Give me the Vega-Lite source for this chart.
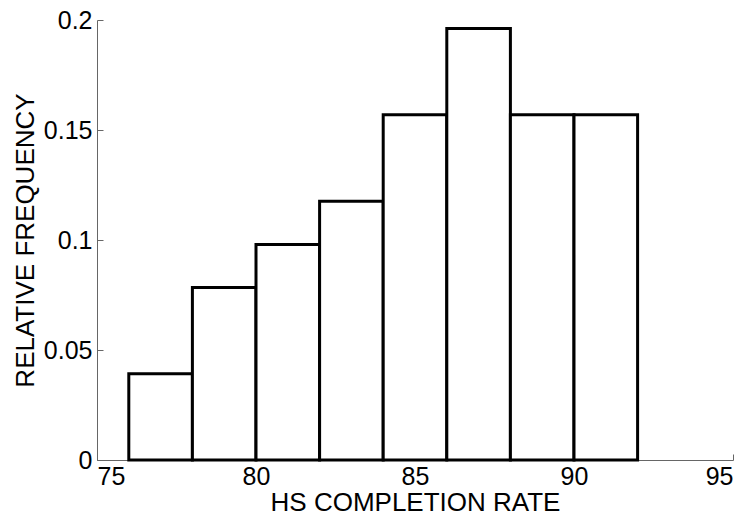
{
  "$schema": "https://vega.github.io/schema/vega-lite/v6.json",
  "width": 636,
  "height": 440,
  "autosize": {"type": "none"},
  "padding": {"left": 97, "top": 20, "right": 16, "bottom": 56},
  "background": "white",
  "config": {
    "view": {"stroke": null},
    "font": "Liberation Sans"
  },
  "data": {
    "values": [
      {"bin_start": 76, "bin_end": 78, "freq": 0.0392},
      {"bin_start": 78, "bin_end": 80, "freq": 0.0784},
      {"bin_start": 80, "bin_end": 82, "freq": 0.098},
      {"bin_start": 82, "bin_end": 84, "freq": 0.1176},
      {"bin_start": 84, "bin_end": 86, "freq": 0.1569},
      {"bin_start": 86, "bin_end": 88, "freq": 0.1961},
      {"bin_start": 88, "bin_end": 90, "freq": 0.1569},
      {"bin_start": 90, "bin_end": 92, "freq": 0.1569}
    ]
  },
  "mark": {"type": "rect", "fill": "white", "stroke": "black", "strokeWidth": 3},
  "encoding": {
    "x": {
      "field": "bin_start",
      "type": "quantitative",
      "scale": {"domain": [75, 95], "nice": false, "zero": false},
      "axis": {
        "title": "HS COMPLETION RATE",
        "values": [75, 80, 85, 90, 95],
        "format": "d",
        "grid": false,
        "domainColor": "#666",
        "tickColor": "#666",
        "tickSize": -6,
        "labelPadding": 10,
        "labelFontSize": 25,
        "labelColor": "black",
        "titleFontSize": 26,
        "titleFontWeight": "normal",
        "titleColor": "black",
        "titlePadding": 0
      }
    },
    "x2": {"field": "bin_end"},
    "y": {
      "field": "freq",
      "type": "quantitative",
      "scale": {"domain": [0, 0.2], "nice": false},
      "axis": {
        "title": "RELATIVE FREQUENCY",
        "values": [0, 0.05, 0.1, 0.15, 0.2],
        "format": "~g",
        "grid": false,
        "domainColor": "#666",
        "tickColor": "#666",
        "tickSize": -6,
        "labelPadding": 11,
        "labelFontSize": 25,
        "labelColor": "black",
        "titleFontSize": 26,
        "titleFontWeight": "normal",
        "titleColor": "black",
        "titlePadding": 5
      }
    },
    "y2": {"datum": 0}
  }
}
